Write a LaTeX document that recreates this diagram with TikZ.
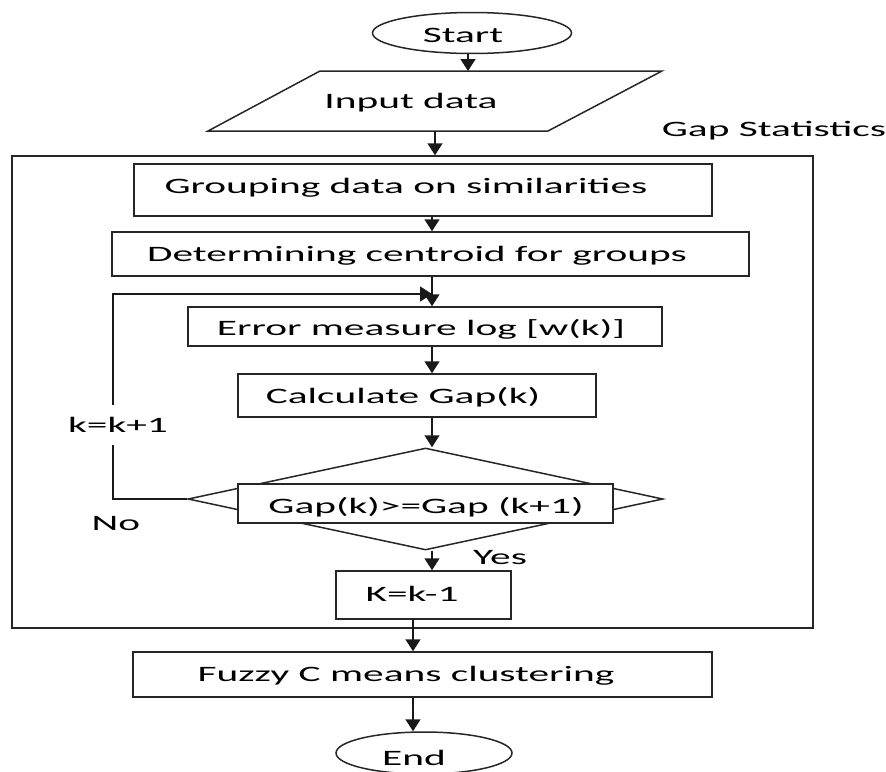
\documentclass[tikz,border=0pt]{standalone}
\usepackage{fontspec}
\setmainfont{Carlito}[FakeStretch=1.88]
\usetikzlibrary{arrows.meta,shapes.geometric}
\begin{document}
\begin{tikzpicture}[x=1pt,y=-1pt,
  every node/.style={font=\fontsize{22}{26}\selectfont, text=black},
  box/.style={draw=black!85, line width=1.5pt, rectangle, inner sep=0pt},
  oval/.style={draw=black!85, line width=1.5pt, ellipse, inner sep=0pt},
  txt/.style={inner sep=0pt},
  arr/.style={draw=black!90, line width=1.5pt, -{Triangle[width=15pt,length=12pt]}},
  ln/.style={draw=black!85, line width=1.5pt}]
\useasboundingbox (0,0) rectangle (886,771);

% axis coordinates
\coordinate (ax) at (432,0);
\coordinate (bx) at (413,0);

% Start
\node[oval, minimum width=199pt, minimum height=41pt] (start) at (472,33) {};
\node[txt] (tstart) at (463,35) {Start};

% Input parallelogram
\draw[ln] (320,71) coordinate (inTL) -- (662,71) coordinate (inTR)
  -- (548,131) coordinate (inBR) -- (208,131) coordinate (inBL) -- cycle;
\coordinate (inT) at (468,71);
\coordinate (inB) at (435,131);
\node[txt] (tinput) at (411,103) {Input data};

% Gap statistics frame
\node[box, minimum width=801pt, minimum height=472pt] (gapbox) at (412.5,392) {};
\node[txt] (tgap) at (774,131) {Gap Statistics};

% Boxes
\node[box, minimum width=578pt, minimum height=52pt] (group) at (423,190) {};
\node[txt] (tgroup) at (406,188) {Grouping data on similarities};

\node[box, minimum width=637pt, minimum height=44pt] (determ) at (430.5,254) {};
\node[txt] (tdeterm) at (417,256) {Determining centroid for groups};

\node[box, minimum width=474pt, minimum height=39pt] (error) at (425,326.5) {};
\node[txt] (terror) at (421,329) {Error measure log [w(k)]};

\node[box, minimum width=358pt, minimum height=43pt] (calc) at (417,395.5) {};
\node[txt] (tcalc) at (403,397) {Calculate Gap(k)};

\node[diamond, draw=black!85, line width=1.5pt, inner sep=0pt,
  minimum width=475pt, minimum height=102pt] (dia) at (425.5,499) {};
\node[box, fill=white, minimum width=375pt, minimum height=39pt] (cond) at (425.5,503.5) {};
\node[txt] (tcond) at (426,507) {Gap(k)>=Gap (k+1)};

\node[box, minimum width=175pt, minimum height=48pt] (kbox) at (423.5,595) {};
\node[txt] (tk) at (412,594) {K=k-1};

\node[box, minimum width=579pt, minimum height=45pt] (fuzzy) at (422.5,674.5) {};
\node[txt] (tfuzzy) at (406,676) {Fuzzy C means clustering};

\node[oval, minimum width=176pt, minimum height=42pt] (endn) at (424,753) {};
\node[txt] (tend) at (414,758) {End};

% Connectors
\draw[arr] (start.south -| inT) -- (inT);
\draw[arr] (inB) -- (inB |- gapbox.north);
\draw[arr] (group.south -| ax) -- (determ.north -| ax);
\draw[arr] (determ.south -| ax) -- (error.north -| ax);
\draw[arr] (error.south -| ax) -- (calc.north -| ax);
\draw[arr] (calc.south -| ax) -- (dia.north -| ax);
\draw[arr] (dia.south -| ax) -- (kbox.north -| ax);
\draw[arr] (kbox.south -| bx) -- (fuzzy.north -| bx);
\draw[arr] (fuzzy.south -| bx) -- (endn.north -| bx);

% Loop back
\coordinate (join) at (432,294);
\draw[arr] (dia.west) -- (113,499) -- (113,294) -- (join);
\node[txt, fill=white, minimum height=40pt] (tloop) at (118,425) {k=k+1};

% Labels
\node[txt] (tno) at (116,524) {No};
\node[txt] (tyes) at (500,558) {Yes};
\end{tikzpicture}
\end{document}
